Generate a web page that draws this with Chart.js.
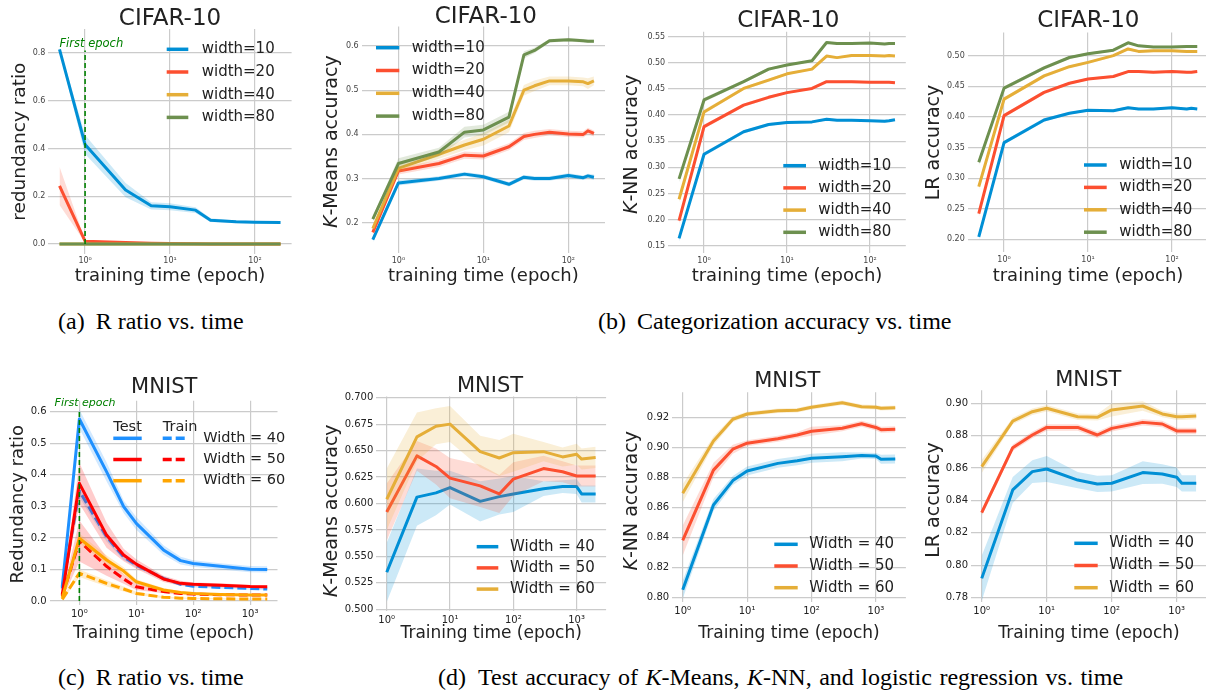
<!DOCTYPE html>
<html>
<head>
<meta charset="utf-8">
<script src="https://cdn.jsdelivr.net/npm/chart.js@4.4.0/dist/chart.umd.min.js"></script>
<style>
html, body { margin: 0; padding: 0; background: #fff; }
body { position: relative; width: 1206px; height: 692px; overflow: hidden; }
canvas { position: absolute; }
.cap { position: absolute; font-family: "Liberation Serif", "Times New Roman", serif; font-size: 24px; line-height: 24px; color: #000; white-space: nowrap; }
.cap .n { margin-right: 5px; }
</style>
</head>
<body>
<div class="cap" style="left:58px;top:309px"><span class="n">(a)</span> R ratio vs. time</div>
<div class="cap" style="left:598px;top:309px"><span class="n">(b)</span> Categorization accuracy vs. time</div>
<div class="cap" style="left:58px;top:665px"><span class="n">(c)</span> R ratio vs. time</div>
<div class="cap" style="left:438px;top:665px;word-spacing:1.5px"><span class="n">(d)</span> Test accuracy of <i>K</i>-Means, <i>K</i>-NN, and logistic regression vs. time</div>
<script>
// ---------- data ----------
const cifarLabels = ['width=10', 'width=20', 'width=40', 'width=80'];
const mnistLabels = ['Width = 40', 'Width = 50', 'Width = 60'];

const cifarTicksX = [1, 10, 100];
const cifarTickLabelsX = ['10⁰', '10¹', '10²'];
const mnistTicksX = [1, 10, 100, 1000];
const mnistTickLabelsX = ['10⁰', '10¹', '10²', '10³'];

// (a) CIFAR-10 redundancy ratio
const ratioEpochsA = [0.5, 1, 3, 6, 10, 20, 30, 60, 100, 200];
const ratioW10 = [0.815, 0.417, 0.226, 0.16, 0.156, 0.142, 0.10, 0.093, 0.091, 0.09];
const ratioW10Std = [0.01, 0.04, 0.03, 0.015, 0.015, 0.012, 0.008, 0.006, 0.005, 0.005];
const ratioW20 = [0.244, 0.012, 0.006, 0.003, 0.002, 0.001, 0, 0, 0, 0];
const ratioW20Std = [0.08, 0.005, 0.003, 0.002, 0.001, 0, 0, 0, 0, 0];
const ratioW40 = [0, 0, 0, 0, 0, 0, 0, 0, 0, 0];
const ratioW80 = [0, 0, 0, 0, 0, 0, 0, 0, 0, 0];
const zeroStdA = [0, 0, 0, 0, 0, 0, 0, 0, 0, 0];
const ratioTicksA = [0, 0.2, 0.4, 0.6, 0.8];
const ratioTickLabelsA = ['0.0', '0.2', '0.4', '0.6', '0.8'];

// (b) CIFAR-10 accuracies
const accEpochsB = [0.5, 1, 3, 6, 10, 20, 30, 40, 60, 100, 150, 170, 200];
const kmW10 = [0.162, 0.29, 0.30, 0.31, 0.304, 0.287, 0.303, 0.300, 0.300, 0.307, 0.302, 0.306, 0.303];
const kmW20 = [0.178, 0.317, 0.334, 0.353, 0.351, 0.372, 0.395, 0.40, 0.405, 0.401, 0.40, 0.408, 0.402];
const kmW40 = [0.187, 0.323, 0.355, 0.376, 0.389, 0.419, 0.50, 0.51, 0.521, 0.521, 0.519, 0.515, 0.521];
const kmW80 = [0.208, 0.334, 0.36, 0.405, 0.41, 0.439, 0.58, 0.59, 0.612, 0.614, 0.612, 0.611, 0.611];
const kmW10Std = [0.006, 0.006, 0.005, 0.005, 0.005, 0.005, 0.005, 0.005, 0.005, 0.005, 0.005, 0.005, 0.006];
const kmW20Std = [0.006, 0.008, 0.008, 0.008, 0.008, 0.008, 0.008, 0.008, 0.007, 0.007, 0.007, 0.007, 0.007];
const kmW40Std = [0.006, 0.01, 0.01, 0.012, 0.014, 0.014, 0.012, 0.012, 0.01, 0.01, 0.01, 0.012, 0.01];
const kmW80Std = [0.006, 0.012, 0.01, 0.012, 0.012, 0.012, 0.008, 0.006, 0.004, 0.004, 0.004, 0.004, 0.004];
const kmTicksB = [0.2, 0.3, 0.4, 0.5, 0.6];
const kmTickLabelsB = ['0.2', '0.3', '0.4', '0.5', '0.6'];

const knW10 = [0.164, 0.325, 0.368, 0.382, 0.386, 0.387, 0.392, 0.390, 0.390, 0.389, 0.388, 0.389, 0.391];
const knW20 = [0.198, 0.378, 0.419, 0.434, 0.443, 0.451, 0.464, 0.464, 0.464, 0.463, 0.463, 0.463, 0.462];
const knW40 = [0.239, 0.406, 0.451, 0.467, 0.479, 0.488, 0.513, 0.510, 0.514, 0.514, 0.513, 0.514, 0.513];
const knW80 = [0.278, 0.429, 0.464, 0.488, 0.496, 0.504, 0.539, 0.537, 0.537, 0.538, 0.536, 0.537, 0.537];
const knStdB = [0.006, 0.004, 0.003, 0.003, 0.002, 0.002, 0.002, 0.002, 0.002, 0.002, 0.002, 0.002, 0.002];
const knTicksB = [0.15, 0.2, 0.25, 0.3, 0.35, 0.4, 0.45, 0.5, 0.55];
const knTickLabelsB = ['0.15', '0.20', '0.25', '0.30', '0.35', '0.40', '0.45', '0.50', '0.55'];

const lrW10 = [0.204, 0.358, 0.395, 0.406, 0.411, 0.410, 0.415, 0.413, 0.413, 0.415, 0.413, 0.414, 0.413];
const lrW20 = [0.242, 0.402, 0.44, 0.455, 0.462, 0.466, 0.474, 0.474, 0.473, 0.474, 0.473, 0.473, 0.474];
const lrW40 = [0.286, 0.429, 0.467, 0.482, 0.489, 0.50, 0.511, 0.507, 0.508, 0.508, 0.507, 0.507, 0.507];
const lrW80 = [0.326, 0.447, 0.48, 0.497, 0.503, 0.509, 0.521, 0.516, 0.514, 0.514, 0.515, 0.515, 0.515];
const lrStdB = [0.006, 0.003, 0.003, 0.002, 0.002, 0.002, 0.002, 0.002, 0.002, 0.002, 0.002, 0.002, 0.002];
const lrTicksB = [0.2, 0.25, 0.3, 0.35, 0.4, 0.45, 0.5];
const lrTickLabelsB = ['0.20', '0.25', '0.30', '0.35', '0.40', '0.45', '0.50'];

// (c) MNIST redundancy ratio (test solid, train dashed)
const ratioEpochsC = [0.5, 1, 3, 6, 10, 30, 60, 100, 300, 1000, 2000];
const test40 = [0.045, 0.577, 0.41, 0.299, 0.246, 0.162, 0.128, 0.119, 0.11, 0.101, 0.100];
const test40Std = [0.01, 0.03, 0.03, 0.02, 0.02, 0.015, 0.012, 0.01, 0.01, 0.01, 0.01];
const train40 = [0.04, 0.349, 0.204, 0.14, 0.114, 0.072, 0.053, 0.047, 0.043, 0.040, 0.038];
const train40Std = [0.01, 0.02, 0.015, 0.01, 0.008, 0.006, 0.005, 0.004, 0.004, 0.004, 0.004];
const test50 = [0.02, 0.373, 0.209, 0.146, 0.117, 0.07, 0.056, 0.053, 0.05, 0.046, 0.045];
const test50Std = [0.01, 0.065, 0.04, 0.02, 0.015, 0.01, 0.008, 0.006, 0.006, 0.005, 0.005];
const train50 = [0.015, 0.19, 0.11, 0.07, 0.045, 0.03, 0.024, 0.022, 0.02, 0.019, 0.019];
const train50Std = [0.01, 0.065, 0.03, 0.015, 0.01, 0.005, 0.004, 0.003, 0.003, 0.003, 0.003];
const test60 = [0.01, 0.199, 0.13, 0.095, 0.061, 0.035, 0.027, 0.024, 0.021, 0.019, 0.019];
const test60Std = [0.005, 0.015, 0.015, 0.012, 0.008, 0.006, 0.004, 0.004, 0.003, 0.003, 0.003];
const train60 = [0.005, 0.088, 0.056, 0.038, 0.024, 0.012, 0.009, 0.008, 0.007, 0.006, 0.006];
const train60Std = [0.003, 0.012, 0.01, 0.008, 0.005, 0.003, 0.002, 0.002, 0.002, 0.002, 0.002];
const ratioTicksC = [0, 0.1, 0.2, 0.3, 0.4, 0.5, 0.6];
const ratioTickLabelsC = ['0.0', '0.1', '0.2', '0.3', '0.4', '0.5', '0.6'];

// (d) MNIST accuracies
const accEpochsD = [1, 3, 6, 10, 30, 60, 100, 300, 600, 1000, 1200, 2000];
const dKm40 = [0.535, 0.606, 0.61, 0.615, 0.602, 0.6065, 0.609, 0.614, 0.616, 0.616, 0.609, 0.609];
const dKm40Std = [0.028, 0.027, 0.021, 0.016, 0.019, 0.017, 0.017, 0.007, 0.006, 0.007, 0.008, 0.008];
const dKm50 = [0.592, 0.645, 0.635, 0.624, 0.6166, 0.609, 0.623, 0.633, 0.630, 0.626, 0.626, 0.626];
const dKm50Std = [0.027, 0.014, 0.017, 0.019, 0.02, 0.018, 0.016, 0.012, 0.01, 0.01, 0.01, 0.01];
const dKm60 = [0.604, 0.663, 0.673, 0.675, 0.649, 0.643, 0.648, 0.649, 0.644, 0.6465, 0.642, 0.6435];
const dKm60Std = [0.029, 0.023, 0.017, 0.017, 0.015, 0.017, 0.018, 0.009, 0.009, 0.01, 0.01, 0.01];
const kmTicksD = [0.5, 0.525, 0.55, 0.575, 0.6, 0.625, 0.65, 0.675, 0.7];
const kmTickLabelsD = ['0.500', '0.525', '0.550', '0.575', '0.600', '0.625', '0.650', '0.675', '0.700'];

const dKn40 = [0.805, 0.8617, 0.878, 0.8844, 0.8895, 0.8913, 0.8929, 0.894, 0.8947, 0.8944, 0.8922, 0.8924];
const dKn40Std = [0.006, 0.004, 0.003, 0.003, 0.003, 0.003, 0.003, 0.003, 0.002, 0.002, 0.003, 0.003];
const dKn50 = [0.838, 0.885, 0.899, 0.903, 0.906, 0.9085, 0.911, 0.913, 0.916, 0.9135, 0.912, 0.9123];
const dKn50Std = [0.01, 0.005, 0.003, 0.002, 0.002, 0.002, 0.003, 0.002, 0.002, 0.002, 0.002, 0.002];
const dKn60 = [0.8695, 0.9045, 0.919, 0.9225, 0.9247, 0.925, 0.927, 0.930, 0.9274, 0.927, 0.9263, 0.9267];
const dKn60Std = [0.006, 0.003, 0.002, 0.0015, 0.0015, 0.0015, 0.0015, 0.0015, 0.0015, 0.0015, 0.0015, 0.0015];
const knTicksD = [0.8, 0.82, 0.84, 0.86, 0.88, 0.9, 0.92];
const knTickLabelsD = ['0.80', '0.82', '0.84', '0.86', '0.88', '0.90', '0.92'];

const dLr40 = [0.7919, 0.8465, 0.8578, 0.8594, 0.8526, 0.8502, 0.8506, 0.8572, 0.8563, 0.8543, 0.8506, 0.8506];
const dLr40Std = [0.014, 0.008, 0.007, 0.008, 0.005, 0.005, 0.005, 0.007, 0.006, 0.006, 0.005, 0.005];
const dLr50 = [0.8325, 0.8726, 0.8804, 0.8851, 0.8851, 0.8804, 0.8845, 0.8882, 0.8872, 0.8829, 0.8829, 0.8829];
const dLr50Std = [0.002, 0.002, 0.002, 0.002, 0.002, 0.002, 0.002, 0.002, 0.002, 0.002, 0.002, 0.002];
const dLr60 = [0.8609, 0.889, 0.8948, 0.8969, 0.8917, 0.8913, 0.8959, 0.8983, 0.8934, 0.8917, 0.8917, 0.8921];
const dLr60Std = [0.004, 0.002, 0.002, 0.002, 0.002, 0.002, 0.004, 0.003, 0.002, 0.002, 0.002, 0.002];
const lrTicksD = [0.78, 0.8, 0.82, 0.84, 0.86, 0.88, 0.9];
const lrTickLabelsD = ['0.78', '0.80', '0.82', '0.84', '0.86', '0.88', '0.90'];

// ---------- styling ----------
const C538 = ['#008fd5', '#fc4f30', '#e5ae38', '#6d904f'];
const CMNIST = ['#1e90ff', '#ff0000', '#ffa500'];
const GRID = '#cbcbcb';
const FONT = '"DejaVu Sans", sans-serif';
Chart.defaults.font.family = FONT;

function rgba(hex, a) {
    const n = parseInt(hex.slice(1), 16);
    return `rgba(${n >> 16},${(n >> 8) & 255},${n & 255},${a})`;
}

function pts(xs, ys) {
    return xs.map((x, i) => ({ x: x, y: ys[i] }));
}

// band (upper, lower) + mean line; k sets the stacking (later = on top)
function series(xs, mean, std, color, label, k, dash) {
    return [
        { data: pts(xs, mean.map((m, i) => m + std[i])), borderWidth: 0, borderColor: 'transparent',
          pointRadius: 0, fill: '+1', backgroundColor: rgba(color, 0.2), order: -3 * k },
        { data: pts(xs, mean.map((m, i) => m - std[i])), borderWidth: 0, borderColor: 'transparent',
          pointRadius: 0, fill: false, order: -3 * k - 1 },
        { label: label, data: pts(xs, mean), borderColor: color, borderWidth: 3, pointRadius: 0,
          fill: false, borderDash: dash || [], borderJoinStyle: 'round', order: -3 * k - 2,
          legend: true, legendDash: !!dash }
    ];
}

function textPlugin(p, ox, oy) {
    return {
        id: 'panelText',
        afterDraw(chart) {
            const ctx = chart.ctx;
            ctx.save();
            ctx.fillStyle = '#222';
            ctx.font = `${p.titleSize}px ${FONT}`;
            ctx.textAlign = 'center';
            ctx.textBaseline = 'alphabetic';
            ctx.fillText(p.title, p.titlePos[0] - ox, p.titlePos[1] - oy);

            // rotated y label, K may be italic
            ctx.save();
            ctx.translate(p.ylabPos[0] - ox, p.ylabPos[1] - oy);
            ctx.rotate(-Math.PI / 2);
            ctx.textAlign = 'left';
            ctx.textBaseline = 'middle';
            let total = 0;
            const segs = p.ylabel.map(s => {
                const font = `${s.italic ? 'italic ' : ''}${p.ylabSize}px ${FONT}`;
                ctx.font = font;
                const w = ctx.measureText(s.text).width;
                total += w;
                return { text: s.text, font: font, w: w };
            });
            let x = -total / 2;
            segs.forEach(s => { ctx.font = s.font; ctx.fillText(s.text, x, 0); x += s.w; });
            ctx.restore();

            if (p.note) {
                ctx.fillStyle = '#008000';
                ctx.font = `italic ${p.note.size}px ${FONT}`;
                ctx.textAlign = 'left';
                ctx.textBaseline = 'alphabetic';
                ctx.fillText('First epoch', chart.scales.x.getPixelForValue(p.note.x),
                    chart.scales.y.getPixelForValue(p.note.y));
            }

            const items = chart.data.datasets.filter(d => d.legend);
            const L = p.legend;
            ctx.lineWidth = 3.5;
            ctx.lineCap = 'butt';
            ctx.textAlign = 'left';
            ctx.textBaseline = 'middle';
            if (!L.pairs) {
                items.forEach((d, i) => {
                    const y = L.y - oy + i * L.gap;
                    const x0 = L.x - ox;
                    ctx.strokeStyle = d.borderColor;
                    ctx.setLineDash([]);
                    ctx.beginPath(); ctx.moveTo(x0, y); ctx.lineTo(x0 + L.seg, y); ctx.stroke();
                    ctx.fillStyle = '#222';
                    ctx.font = `${L.size}px ${FONT}`;
                    ctx.fillText(d.label, x0 + L.dx, y);
                });
            } else {
                ctx.fillStyle = '#222';
                ctx.font = `${L.size}px ${FONT}`;
                ctx.textBaseline = 'alphabetic';
                ctx.fillText('Test', L.testX - ox, L.headY - oy);
                ctx.fillText('Train', L.trainX - ox, L.headY - oy);
                ctx.textBaseline = 'middle';
                const solid = items.filter(d => !d.legendDash);
                const dashed = items.filter(d => d.legendDash);
                solid.forEach((d, i) => {
                    const y = L.y - oy + i * L.gap;
                    ctx.strokeStyle = d.borderColor;
                    ctx.setLineDash([]);
                    ctx.beginPath(); ctx.moveTo(L.testX - ox, y); ctx.lineTo(L.testX - ox + L.seg, y); ctx.stroke();
                    ctx.strokeStyle = dashed[i].borderColor;
                    ctx.setLineDash([9, 4]);
                    ctx.beginPath(); ctx.moveTo(L.trainX - ox, y); ctx.lineTo(L.trainX - ox + L.seg2, y); ctx.stroke();
                    ctx.fillStyle = '#222';
                    ctx.fillText(d.label, L.textX - ox, y);
                });
            }
            ctx.restore();
        }
    };
}

function makePanel(p) {
    const [ox, oy, W, H] = p.box;
    const [L, T, R, B] = p.area;
    const cv = document.createElement('canvas');
    cv.width = W;
    cv.height = H;
    cv.style.left = ox + 'px';
    cv.style.top = oy + 'px';
    document.body.appendChild(cv);
    const row = p.row;
    return new Chart(cv, {
        type: 'line',
        data: { datasets: p.datasets },
        options: {
            responsive: false,
            animation: false,
            devicePixelRatio: 1,
            layout: { padding: { left: 0, top: T - oy, right: ox + W - R, bottom: 0 } },
            plugins: { legend: { display: false }, tooltip: { enabled: false } },
            scales: {
                x: {
                    type: 'logarithmic',
                    min: p.xRange[0],
                    max: p.xRange[1],
                    afterBuildTicks: s => { s.ticks = p.xTicks.map(v => ({ value: v })); },
                    afterFit: s => { s.height = oy + H - B; },
                    ticks: {
                        callback: (v, i) => p.xTickLabels[i],
                        font: { size: row.tickSize },
                        color: row.tickColor,
                        padding: row.xTickPad,
                        maxRotation: 0,
                        autoSkip: false
                    },
                    grid: { color: GRID, lineWidth: 1.2, drawTicks: false },
                    border: { display: false },
                    title: {
                        display: true,
                        text: row.xlabel,
                        color: '#222',
                        font: { size: row.xlabSize },
                        padding: { top: 0, bottom: row.xlabPad }
                    }
                },
                y: {
                    type: 'linear',
                    min: p.yRange[0],
                    max: p.yRange[1],
                    afterBuildTicks: s => { s.ticks = p.yTicks.map(v => ({ value: v })); },
                    afterFit: s => { s.width = L - ox; },
                    ticks: {
                        callback: (v, i) => p.yTickLabels[i],
                        font: { size: row.tickSize },
                        color: row.tickColor,
                        padding: 3
                    },
                    grid: { color: GRID, lineWidth: 1.2, drawTicks: false },
                    border: { display: false }
                }
            }
        },
        plugins: [textPlugin(p, ox, oy)]
    });
}

const TOP = { tickSize: 8, tickColor: '#444', xTickPad: 3, xlabel: 'training time (epoch)', xlabSize: 18, xlabPad: 12.4 };
const BOT = { tickSize: 10, tickColor: '#222', xTickPad: 4, xlabel: 'Training time (epoch)', xlabSize: 17, xlabPad: 6.7 };

function firstEpochLine(top) {
    return { data: [{ x: 1, y: 0 }, { x: 1, y: top }], borderColor: '#008000', borderWidth: 1.6,
             borderDash: [5, 3], pointRadius: 0, fill: false, order: -100 };
}

function cifarSets(xs, means, stds) {
    return means.flatMap((m, k) => series(xs, m, stds[k], C538[k], cifarLabels[k], k));
}
function mnistSets(xs, means, stds) {
    return means.flatMap((m, k) => series(xs, m, stds[k], C538[k], mnistLabels[k], k));
}

// (a)
makePanel({
    box: [0, 0, 300, 300], area: [48.4, 29.1, 291.6, 253.6], row: TOP,
    xRange: [0.37, 270], yRange: [-0.04, 0.90],
    xTicks: cifarTicksX, xTickLabels: cifarTickLabelsX, yTicks: ratioTicksA, yTickLabels: ratioTickLabelsA,
    title: 'CIFAR-10', titleSize: 23, titlePos: [170, 25],
    ylabel: [{ text: 'redundancy ratio' }], ylabSize: 18.5, ylabPos: [20, 141.7],
    note: { x: 0.5, y: 0.826, size: 11.5 },
    legend: { x: 166.7, y: 49.3, gap: 22.7, seg: 21.6, dx: 35, size: 15 },
    datasets: cifarSets(ratioEpochsA, [ratioW10, ratioW20, ratioW40, ratioW80],
        [ratioW10Std, ratioW20Std, zeroStdA, zeroStdA]).concat([firstEpochLine(0.81)])
});

// (b) K-Means
makePanel({
    box: [300, 0, 310, 300], area: [361.7, 26.6, 605, 253.2], row: TOP,
    xRange: [0.37, 270], yRange: [0.131, 0.644],
    xTicks: cifarTicksX, xTickLabels: cifarTickLabelsX, yTicks: kmTicksB, yTickLabels: kmTickLabelsB,
    title: 'CIFAR-10', titleSize: 23, titlePos: [485.8, 23.3],
    ylabel: [{ text: 'K', italic: true }, { text: '-Means accuracy' }], ylabSize: 19, ylabPos: [332, 141.7],
    legend: { x: 376, y: 47.7, gap: 22.8, seg: 23.3, dx: 35.7, size: 15 },
    datasets: cifarSets(accEpochsB, [kmW10, kmW20, kmW40, kmW80], [kmW10Std, kmW20Std, kmW40Std, kmW80Std])
});

// (b) K-NN
makePanel({
    box: [610, 0, 302, 300], area: [668.2, 31.7, 905.8, 253.3], row: TOP,
    xRange: [0.37, 270], yRange: [0.1355, 0.5596],
    xTicks: cifarTicksX, xTickLabels: cifarTickLabelsX, yTicks: knTicksB, yTickLabels: knTickLabelsB,
    title: 'CIFAR-10', titleSize: 23, titlePos: [788.3, 26.7],
    ylabel: [{ text: 'K', italic: true }, { text: '-NN accuracy' }], ylabSize: 19, ylabPos: [632, 144.2],
    legend: { x: 783.3, y: 165.7, gap: 22.2, seg: 22.7, dx: 35, size: 15 },
    datasets: cifarSets(accEpochsB, [knW10, knW20, knW40, knW80], [knStdB, knStdB, knStdB, knStdB])
});

// (b) LR
makePanel({
    box: [912, 0, 300, 300], area: [967.8, 32.4, 1208.2, 252.2], row: TOP,
    xRange: [0.37, 270], yRange: [0.179, 0.538],
    xTicks: cifarTicksX, xTickLabels: cifarTickLabelsX, yTicks: lrTicksB, yTickLabels: lrTickLabelsB,
    title: 'CIFAR-10', titleSize: 23, titlePos: [1088.3, 26.7],
    ylabel: [{ text: 'LR accuracy' }], ylabSize: 19, ylabPos: [934.5, 142.5],
    legend: { x: 1084, y: 165, gap: 22.4, seg: 22.7, dx: 35.3, size: 15 },
    datasets: cifarSets(accEpochsB, [lrW10, lrW20, lrW40, lrW80], [lrStdB, lrStdB, lrStdB, lrStdB])
});

// (c) MNIST redundancy
const setsC = [].concat(
    series(ratioEpochsC, test40, test40Std, CMNIST[0], mnistLabels[0], 0),
    series(ratioEpochsC, train40, train40Std, CMNIST[0], mnistLabels[0], 1, [9, 4]),
    series(ratioEpochsC, test50, test50Std, CMNIST[1], mnistLabels[1], 2),
    series(ratioEpochsC, train50, train50Std, CMNIST[1], mnistLabels[1], 3, [9, 4]),
    series(ratioEpochsC, test60, test60Std, CMNIST[2], mnistLabels[2], 4),
    series(ratioEpochsC, train60, train60Std, CMNIST[2], mnistLabels[2], 5, [9, 4]),
    [firstEpochLine(0.605)]
);
makePanel({
    box: [0, 360, 300, 290], area: [49.6, 400.7, 277.5, 604.8], row: BOT,
    xRange: [0.33, 3027], yRange: [-0.012, 0.635],
    xTicks: mnistTicksX, xTickLabels: mnistTickLabelsX, yTicks: ratioTicksC, yTickLabels: ratioTickLabelsC,
    title: 'MNIST', titleSize: 21, titlePos: [164.2, 393.3],
    ylabel: [{ text: 'Redundancy ratio' }], ylabSize: 18, ylabPos: [18.3, 504.2],
    note: { x: 0.367, y: 0.619, size: 11 },
    legend: { pairs: true, size: 14.5, headY: 431, testX: 113.3, trainX: 162.7, textX: 203.3,
              y: 438.3, gap: 21.2, seg: 28.4, seg2: 24 },
    datasets: setsC
});

// (d) K-Means
makePanel({
    box: [310, 360, 300, 290], area: [376.3, 396.6, 606.1, 610.9], row: BOT,
    xRange: [0.684, 2924], yRange: [0.4985, 0.701],
    xTicks: mnistTicksX, xTickLabels: mnistTickLabelsX, yTicks: kmTicksD, yTickLabels: kmTickLabelsD,
    title: 'MNIST', titleSize: 21, titlePos: [490, 392],
    ylabel: [{ text: 'K', italic: true }, { text: '-Means accuracy' }], ylabSize: 19, ylabPos: [331.7, 510.8],
    legend: { x: 476.7, y: 546.7, gap: 21.2, seg: 21.6, dx: 33.3, size: 15 },
    datasets: mnistSets(accEpochsD, [dKm40, dKm50, dKm60], [dKm40Std, dKm50Std, dKm60Std])
});

// (d) K-NN
makePanel({
    box: [610, 360, 302, 290], area: [672.1, 392.3, 905.9, 601.8], row: BOT,
    xRange: [0.684, 2924], yRange: [0.797, 0.937],
    xTicks: mnistTicksX, xTickLabels: mnistTickLabelsX, yTicks: knTicksD, yTickLabels: knTickLabelsD,
    title: 'MNIST', titleSize: 21, titlePos: [787.3, 386.7],
    ylabel: [{ text: 'K', italic: true }, { text: '-NN accuracy' }], ylabSize: 19, ylabPos: [632, 500.8],
    legend: { x: 774.3, y: 544.3, gap: 21.7, seg: 23.4, dx: 35, size: 15 },
    datasets: mnistSets(accEpochsD, [dKn40, dKn50, dKn60], [dKn40Std, dKn50Std, dKn60Std])
});

// (d) LR
makePanel({
    box: [912, 360, 300, 290], area: [971, 390.3, 1207, 601.7], row: BOT,
    xRange: [0.684, 2924], yRange: [0.7775, 0.908],
    xTicks: mnistTicksX, xTickLabels: mnistTickLabelsX, yTicks: lrTicksD, yTickLabels: lrTickLabelsD,
    title: 'MNIST', titleSize: 21, titlePos: [1088.3, 386],
    ylabel: [{ text: 'LR accuracy' }], ylabSize: 19, ylabPos: [934.5, 500],
    legend: { x: 1074.3, y: 543.3, gap: 22.2, seg: 23.4, dx: 35, size: 15 },
    datasets: mnistSets(accEpochsD, [dLr40, dLr50, dLr60], [dLr40Std, dLr50Std, dLr60Std])
});
</script>
</body>
</html>
